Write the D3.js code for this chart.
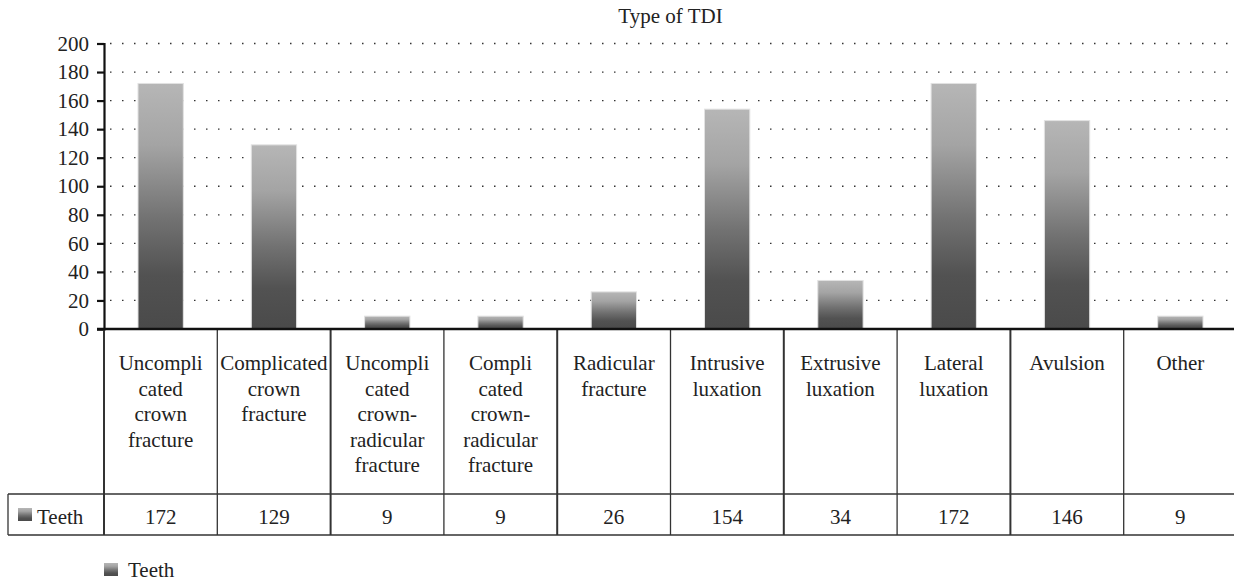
<!DOCTYPE html>
<html>
<head>
<meta charset="utf-8">
<script src="https://cdn.jsdelivr.net/npm/d3@7"></script>
<style>
  body { margin: 0; background: #fff; }
</style>
</head>
<body>
<div class="canvas"></div>
<script>
const title = 'Type of TDI'
const seriesName = 'Teeth'
const categories = [
  'Uncompli|cated|crown|fracture',
  'Complicated|crown|fracture',
  'Uncompli|cated|crown-|radicular|fracture',
  'Compli|cated|crown-|radicular|fracture',
  'Radicular|fracture',
  'Intrusive|luxation',
  'Extrusive|luxation',
  'Lateral|luxation',
  'Avulsion',
  'Other'
]
const teeth = [172, 129, 9, 9, 26, 154, 34, 172, 146, 9]
const yTicks = [0, 20, 40, 60, 80, 100, 120, 140, 160, 180, 200]

const dims = { width: 1234, height: 581 }
const plot = { left: 104, right: 1237, top: 43.5, bottom: 329 }
const table = { left: 8, rowTop: 494, rowBottom: 535 }
const FONT = '"Liberation Serif"'
const fontSize = 21

const svg = d3.select('.canvas').append('svg')
  .attr('width', dims.width)
  .attr('height', dims.height)

// bar gradient
const defs = svg.append('defs')
const grad = defs.append('linearGradient')
  .attr('id', 'barGrad')
  .attr('x1', 0).attr('y1', 0).attr('x2', 0).attr('y2', 1)
grad.selectAll('stop')
  .data([['0%', '#b6b6b6'], ['25%', '#a4a4a4'], ['55%', '#727272'], ['78%', '#525252'], ['100%', '#4a4a4a']])
  .enter().append('stop')
  .attr('offset', d => d[0])
  .attr('stop-color', d => d[1])

const x = d3.scaleBand()
  .domain(d3.range(categories.length))
  .range([plot.left, plot.right])
  .padding(0)

const y = d3.scaleLinear()
  .domain([0, 200])
  .range([plot.bottom, plot.top])

const txt = sel => sel
  .style('font-family', FONT)
  .style('font-size', fontSize + 'px')
  .attr('fill', '#222')

// title
svg.append('text')
  .attr('x', (plot.left + plot.right) / 2).attr('y', 23)
  .attr('text-anchor', 'middle')
  .call(txt)
  .text(title)

// dotted gridlines
svg.append('g')
  .selectAll('line')
  .data(yTicks.filter(t => t > 0))
  .enter().append('line')
  .attr('x1', plot.left + 6).attr('x2', dims.width)
  .attr('y1', d => y(d)).attr('y2', d => y(d))
  .attr('stroke', '#333')
  .attr('stroke-width', 1.3)
  .attr('stroke-dasharray', '1.5 10.5')

// bars
const barW = x.bandwidth() * 0.4
svg.append('g')
  .selectAll('rect')
  .data(teeth)
  .enter().append('rect')
  .attr('x', (d, i) => x(i) + (x.bandwidth() - barW) / 2)
  .attr('y', d => y(d))
  .attr('width', barW)
  .attr('height', d => y(0) - y(d))
  .attr('fill', 'url(#barGrad)')
  .attr('stroke', '#e2e2e2')
  .attr('stroke-width', 1)

// y axis
const yAxis = d3.axisLeft(y)
  .tickValues(yTicks)
  .tickSize(7)
  .tickPadding(8)
const yg = svg.append('g')
  .attr('transform', `translate(${plot.left}, 0)`)
  .call(yAxis)
  .attr('font-family', null)
  .attr('font-size', null)
yg.select('.domain').attr('stroke', '#111').attr('stroke-width', 2.2)
yg.selectAll('.tick line').attr('stroke', '#111').attr('stroke-width', 2.2)
yg.selectAll('.tick text').call(txt)

// table lines
const grid = svg.append('g').attr('stroke', '#333').attr('stroke-width', 1.3)
// vertical column lines (header + data row)
grid.selectAll('line.col')
  .data(d3.range(categories.length))
  .enter().append('line')
  .attr('x1', i => x(i)).attr('x2', i => x(i))
  .attr('y1', plot.bottom).attr('y2', table.rowBottom)
  .attr('stroke-width', (d, i) => i % 2 === 0 ? 2 : 1.3)
grid.append('line')
  .attr('x1', table.left).attr('x2', dims.width)
  .attr('y1', table.rowTop).attr('y2', table.rowTop)
grid.append('line')
  .attr('x1', table.left).attr('x2', dims.width)
  .attr('y1', table.rowBottom).attr('y2', table.rowBottom)
grid.append('line')
  .attr('x1', table.left).attr('x2', table.left)
  .attr('y1', table.rowTop).attr('y2', table.rowBottom)

// x axis baseline
svg.append('line')
  .attr('x1', plot.left - 7).attr('x2', dims.width)
  .attr('y1', y(0)).attr('y2', y(0))
  .attr('stroke', '#111')
  .attr('stroke-width', 2.4)

// category header labels
const header = svg.append('g')
  .attr('text-anchor', 'middle')
categories.forEach((c, i) => {
  const t = header.append('text')
    .attr('x', x(i) + x.bandwidth() / 2)
    .attr('y', 370)
    .call(txt)
  c.split('|').forEach((line, j) => {
    t.append('tspan')
      .attr('x', x(i) + x.bandwidth() / 2)
      .attr('dy', j === 0 ? 0 : 25.5)
      .text(line)
  })
})

// data row
svg.append('g')
  .selectAll('text')
  .data(teeth)
  .enter().append('text')
  .attr('x', (d, i) => x(i) + x.bandwidth() / 2)
  .attr('y', 524)
  .attr('text-anchor', 'middle')
  .call(txt)
  .text(d => d)

// row label with swatch
svg.append('rect')
  .attr('x', 18).attr('y', 508)
  .attr('width', 14).attr('height', 13)
  .attr('fill', 'url(#barGrad)')
svg.append('text')
  .attr('x', 37).attr('y', 524)
  .call(txt)
  .text(seriesName)

// legend
svg.append('rect')
  .attr('x', 104).attr('y', 563)
  .attr('width', 14).attr('height', 13)
  .attr('fill', 'url(#barGrad)')
svg.append('text')
  .attr('x', 128).attr('y', 577)
  .call(txt)
  .text(seriesName)
</script>
</body>
</html>
